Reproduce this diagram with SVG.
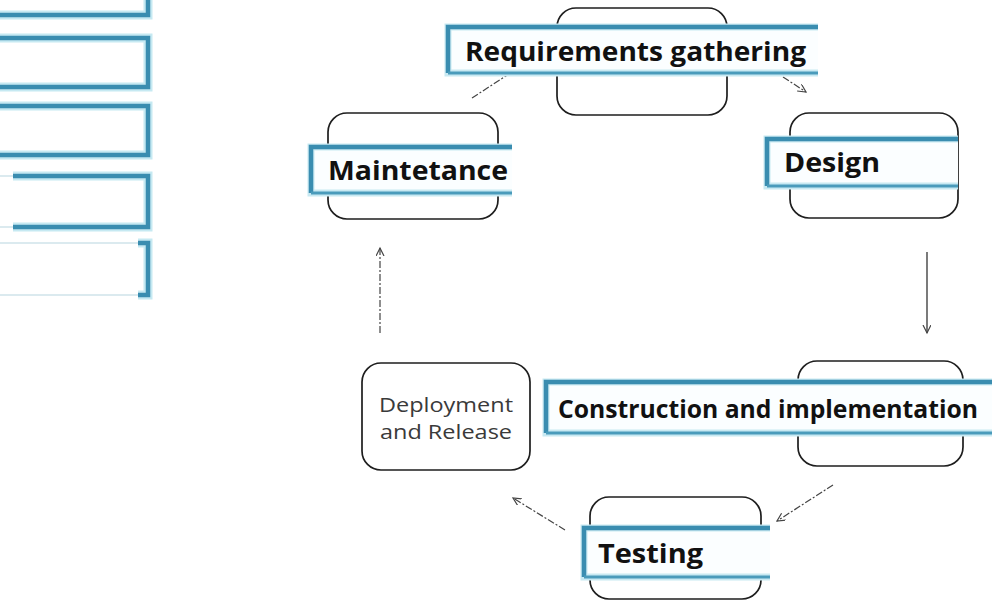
<svg xmlns="http://www.w3.org/2000/svg" width="1002" height="605" viewBox="0 0 1002 605">
  <defs>
    <style>
      .frame { fill: none; stroke: #3a8db0; stroke-width: 4.5; }
      .glow { fill: none; stroke: #c6e9f2; stroke-width: 9; }
      .thin { fill: none; stroke: #cfe3ea; stroke-width: 1.5; }
      .box { fill: #ffffff; stroke: #1e1e1e; stroke-width: 1.7; }
      .band { fill: #fbfeff; stroke: none; }
      .bandline { fill: none; stroke: #3a8db0; stroke-width: 4.5; stroke-linejoin: miter; }
      .bandbottom { fill: none; stroke: #4a9bbb; stroke-width: 3; }
      .bandglow { fill: none; stroke: #c8e9f2; stroke-width: 7; }
      .lbl { font-family: "Open Sans", "Liberation Sans", sans-serif; font-weight: 700; font-size: 27px; fill: #111111; }
      .plain { font-family: "Open Sans", "Liberation Sans", sans-serif; font-weight: 400; font-size: 20px; fill: #3a3a3a; }
      .conn { fill: none; stroke: #444444; stroke-width: 1.2; stroke-dasharray: 7 2 2 2; }
      .solid { fill: none; stroke: #333333; stroke-width: 1.3; }
    </style>
    <marker id="arrow" markerWidth="10" markerHeight="10" refX="8" refY="4" orient="auto" markerUnits="userSpaceOnUse">
      <path d="M0,0 L8,4 L0,8" fill="none" stroke="#444444" stroke-width="1.2"/>
    </marker>
  </defs>

  <rect x="0" y="0" width="1002" height="605" fill="#ffffff"/>

  <!-- side frames (left edge, cut off) -->
  <g id="side-frames">
    <path class="glow" d="M-10,-20 H148 V15 H-10"/>
    <path class="frame" d="M-10,-20 H148 V15 H-10"/>
    <path class="glow" d="M-10,38 H148 V87 H-10"/>
    <path class="frame" d="M-10,38 H148 V87 H-10"/>
    <path class="glow" d="M-10,106 H148 V155 H-10"/>
    <path class="frame" d="M-10,106 H148 V155 H-10"/>
    <path class="glow" d="M13,176 H148 V227 H13"/>
    <path class="frame" d="M13,176 H148 V227 H13"/>
    <path class="thin" d="M0,176 H13 M0,227 H13" stroke="#bbbbbb"/>
    <path class="thin" d="M0,243 H138 M0,295 H138"/>
    <path class="glow" d="M138,243 H148 V295 H138"/>
    <path class="frame" d="M138,243 H148 V295 H138"/>
  </g>

  <!-- connectors -->
  <g id="connectors">
    <line class="conn" x1="783" y1="77" x2="806" y2="92" marker-end="url(#arrow)"/>
    <line class="solid" x1="927" y1="252" x2="927" y2="333" marker-end="url(#arrow)"/>
    <line class="conn" x1="833" y1="485" x2="777" y2="521" marker-end="url(#arrow)"/>
    <line class="conn" x1="565" y1="530" x2="513" y2="498" marker-end="url(#arrow)"/>
    <line class="conn" x1="380" y1="333" x2="380" y2="248" marker-end="url(#arrow)"/>
    <line class="conn" x1="472" y1="98" x2="512" y2="72"/>
  </g>

  <!-- Requirements gathering -->
  <g id="node-requirements">
    <rect class="box" x="557" y="8" width="170" height="107" rx="19"/>
    <rect class="band" x="448" y="27" width="370" height="46"/>
    <path class="bandglow" d="M818,27 H448 V73 H818"/>
    <path class="bandline" d="M818,27 H448 V73"/>
    <path class="bandbottom" d="M448,73 H818"/>
    <text class="lbl" x="465" y="61" textLength="341" lengthAdjust="spacingAndGlyphs">Requirements gathering</text>
  </g>

  <!-- Design -->
  <g id="node-design">
    <rect class="box" x="790" y="113" width="168" height="105" rx="19"/>
    <rect class="band" x="767" y="139" width="191" height="47"/>
    <path class="bandglow" d="M958,139 H767 V186 H958"/>
    <path class="bandline" d="M958,139 H767 V186"/>
    <path class="bandbottom" d="M767,186 H958"/>
    <text class="lbl" x="784" y="172" textLength="96" lengthAdjust="spacingAndGlyphs">Design</text>
  </g>

  <!-- Construction and implementation -->
  <g id="node-construction">
    <rect class="box" x="798" y="361" width="165" height="105" rx="19"/>
    <rect class="band" x="546" y="382" width="446" height="51"/>
    <path class="bandglow" d="M992,382 H546 V433 H992"/>
    <path class="bandline" d="M992,382 H546 V433"/>
    <path class="bandbottom" d="M546,433 H992"/>
    <text class="lbl" x="558" y="418" font-size="25" style="font-size:25px" textLength="420" lengthAdjust="spacingAndGlyphs">Construction and implementation</text>
  </g>

  <!-- Testing -->
  <g id="node-testing">
    <rect class="box" x="590" y="497" width="171" height="102" rx="19"/>
    <rect class="band" x="584" y="528" width="186" height="49"/>
    <path class="bandglow" d="M770,528 H584 V577 H770"/>
    <path class="bandline" d="M770,528 H584 V577"/>
    <path class="bandbottom" d="M584,577 H770"/>
    <text class="lbl" x="598" y="563" textLength="105" lengthAdjust="spacingAndGlyphs">Testing</text>
  </g>

  <!-- Deployment and Release -->
  <g id="node-deployment">
    <rect class="box" x="362" y="363" width="168" height="107" rx="19"/>
    <text class="plain" x="379" y="412" textLength="134" lengthAdjust="spacingAndGlyphs">Deployment</text>
    <text class="plain" x="380" y="439" textLength="132" lengthAdjust="spacingAndGlyphs">and Release</text>
  </g>

  <!-- Maintetance -->
  <g id="node-maintenance">
    <rect class="box" x="328" y="113" width="170" height="106" rx="19"/>
    <rect class="band" x="311" y="147" width="201" height="46"/>
    <path class="bandglow" d="M512,147 H311 V193 H512"/>
    <path class="bandline" d="M512,147 H311 V193"/>
    <path class="bandbottom" d="M311,193 H512"/>
    <text class="lbl" x="328" y="180" textLength="180" lengthAdjust="spacingAndGlyphs">Maintetance</text>
  </g>
</svg>
